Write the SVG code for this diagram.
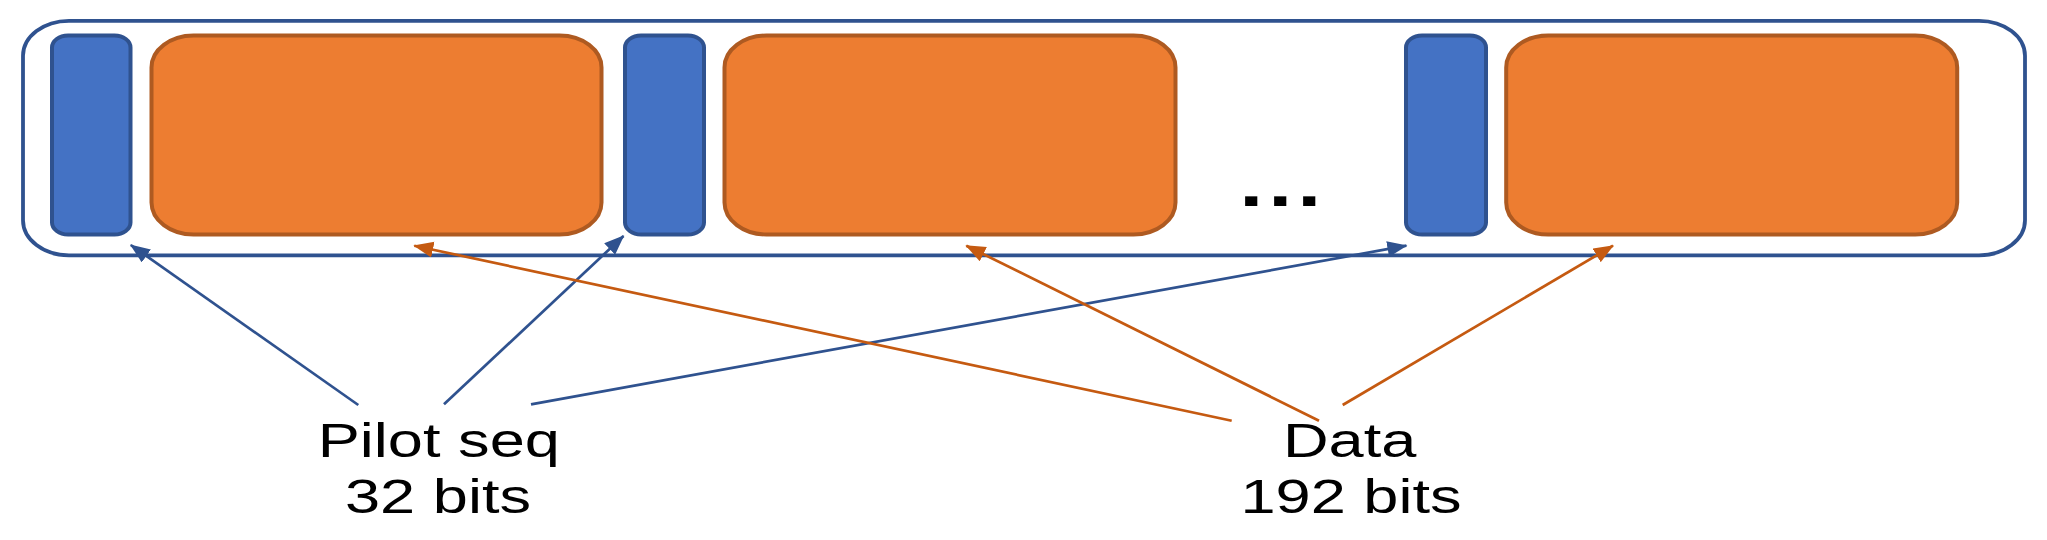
<svg xmlns="http://www.w3.org/2000/svg" width="2047" height="540" viewBox="0 0 2047 540">
<style>
.pilot{fill:#4472C4;stroke:#2F528F;stroke-width:4}
.data{fill:#ED7D31;stroke:#AE5A21;stroke-width:4}
.frame{fill:none;stroke:#2F528F;stroke-width:3.8}
.cb{stroke:#2F528F;stroke-width:2.7;fill:none}
.co{stroke:#C55A11;stroke-width:2.7;fill:none}
.lbl{font-family:"Liberation Sans",Arial,sans-serif;font-size:47.5px;fill:#000}
</style>
<defs>
<marker id="ab" markerUnits="userSpaceOnUse" markerWidth="22" markerHeight="18" refX="19" refY="8" orient="auto"><path d="M0,0 L20,8 L0,16 z" fill="#2F528F"/></marker>
<marker id="ao" markerUnits="userSpaceOnUse" markerWidth="22" markerHeight="18" refX="19" refY="8" orient="auto"><path d="M0,0 L20,8 L0,16 z" fill="#C55A11"/></marker>
</defs>
<g id="frame"><rect class="frame" x="23" y="20.8" width="2002" height="234.5" rx="46" ry="35"/></g>
<g id="pilot1"><rect class="pilot" x="52" y="35.5" width="78.5" height="199" rx="16" ry="12"/></g>
<g id="data1"><rect class="data" x="151.5" y="35.5" width="450" height="199" rx="42" ry="32"/></g>
<g id="pilot2"><rect class="pilot" x="625" y="35.5" width="79" height="199" rx="16" ry="12"/></g>
<g id="data2"><rect class="data" x="724.5" y="35.5" width="451" height="199" rx="42" ry="32"/></g>
<g id="ellipsis"><text class="lbl" style="font-weight:bold;font-size:65px;letter-spacing:3.7px" transform="translate(1239.3 205.7) scale(1.33 1)">...</text></g>
<g id="pilot3"><rect class="pilot" x="1406" y="35.5" width="80" height="199" rx="16" ry="12"/></g>
<g id="data3"><rect class="data" x="1506.2" y="35.5" width="451" height="199" rx="42" ry="32"/></g>
<g id="connectors">
<line class="cb" x1="358.3" y1="405" x2="130.8" y2="245" marker-end="url(#ab)"/>
<line class="cb" x1="444" y1="404.3" x2="623.5" y2="236" marker-end="url(#ab)"/>
<line class="cb" x1="531" y1="404.3" x2="1406.4" y2="245.7" marker-end="url(#ab)"/>
<line class="co" x1="1231.7" y1="420.7" x2="414.3" y2="245.7" marker-end="url(#ao)"/>
<line class="co" x1="1319" y1="420.7" x2="966.3" y2="245.7" marker-end="url(#ao)"/>
<line class="co" x1="1342.7" y1="405" x2="1613" y2="245.7" marker-end="url(#ao)"/>
</g>
<g id="label-pilot">
<text class="lbl" text-anchor="middle" transform="translate(438.8 457.3) scale(1.33 1)">Pilot seq</text>
<text class="lbl" text-anchor="middle" transform="translate(438 512.7) scale(1.33 1)">32 bits</text>
</g>
<g id="label-data">
<text class="lbl" text-anchor="middle" transform="translate(1349.7 457.3) scale(1.33 1)">Data</text>
<text class="lbl" text-anchor="middle" transform="translate(1351 512.7) scale(1.33 1)">192 bits</text>
</g>
</svg>
